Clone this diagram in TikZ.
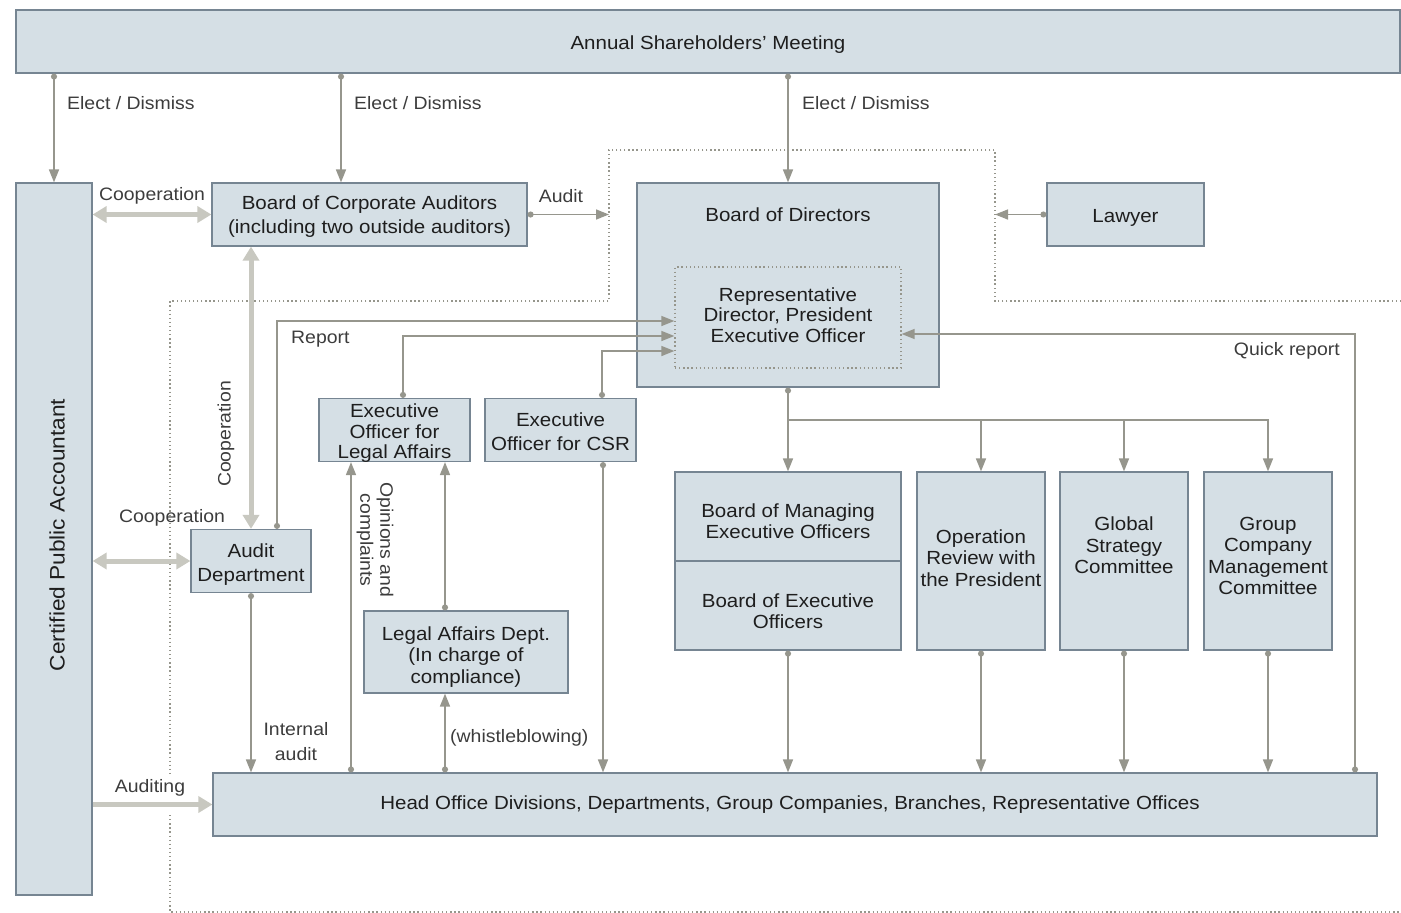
\documentclass[tikz,border=0pt]{standalone}
\usepackage{fontspec}
\setmainfont[FakeStretch=1.08]{Liberation Sans}
\usetikzlibrary{arrows.meta}
\definecolor{boxfill}{RGB}{213,223,229}
\definecolor{boxline}{RGB}{118,133,146}
\definecolor{arrc}{RGB}{150,150,141}
\definecolor{thickc}{RGB}{200,200,192}
\definecolor{dotc}{RGB}{150,150,140}
\definecolor{txtc}{RGB}{30,30,30}
\definecolor{lblc}{RGB}{60,60,60}
\begin{document}
\begin{tikzpicture}[x=1pt,y=-1pt,
  box/.style={draw=boxline, fill=boxfill, line width=1.2pt, inner sep=0pt, align=center, text=txtc, font=\fontsize{19}{21.5}\selectfont, execute at begin node={\rule{0pt}{20pt}}},
  plainbox/.style={draw=boxline, fill=boxfill, line width=1.2pt, inner sep=0pt},
  tx/.style={align=center, inner sep=0pt, text=txtc, font=\fontsize{19}{21.5}\selectfont},
  lab/.style={align=center, inner sep=0pt, text=lblc, font=\fontsize{18}{25}\selectfont},
  repbox/.style={draw=dotc, line width=1.3pt, dash pattern=on 1.3pt off 2.8pt, inner sep=0pt},
  conn/.style={draw=arrc, line width=1.5pt, {Circle[length=6pt]}-{Triangle[length=13pt,width=10pt]}},
  connb/.style={draw=arrc, line width=1.5pt, -{Triangle[length=13pt,width=10pt]}},
  wide/.style={draw=thickc, line width=5pt, -{Triangle[length=14pt,width=16pt]}},
  widetwo/.style={draw=thickc, line width=5pt, {Triangle[length=14pt,width=16pt]}-{Triangle[length=14pt,width=16pt]}},
  dotline/.style={draw=dotc, line width=1.3pt, dash pattern=on 1.3pt off 2.8pt}]
\useasboundingbox (0,0) rectangle (1401,913);

% helper coordinates
\coordinate (dl) at (609,150);
\coordinate (dr) at (995,150);
\coordinate (x341) at (341,0);
\coordinate (x277) at (277,0);
\coordinate (x403) at (403,0);
\coordinate (x602) at (602,0);
\coordinate (x603) at (603,0);
\coordinate (x351) at (351,0);
\coordinate (x445) at (445,0);
\coordinate (x1355) at (1355,0);
\coordinate (y321) at (0,321);
\coordinate (y336) at (0,336);
\coordinate (y351) at (0,351);
\coordinate (y334) at (0,334);
\coordinate (y420) at (0,420);

% dotted boundary
\draw[dotline] (1401,301) -- (995,301) -- (995,150) -- (609,150) -- (609,301) -- (170,301) -- (170,775);
\draw[dotline] (170,815) -- (170,912) -- (1401,912);

% boxes
\node[box, minimum width=1384pt, minimum height=63pt] (asm) at (708,41.5) {Annual Shareholders’ Meeting};
\node[plainbox, minimum width=76pt, minimum height=712pt] (cpa) at (54,539) {};
\node[tx, rotate=90, font=\fontsize{21}{24}\selectfont] (cpat) at (57,535) {Certified Public Accountant};
\node[plainbox, minimum width=315pt, minimum height=63pt] (bca) at (369.5,214.5) {};
\node[tx] (bcat) at (369.5,217) {Board of Corporate Auditors\\[2.5pt](including two outside auditors)};
\node[plainbox, minimum width=302pt, minimum height=204pt] (bod) at (788,285) {};
\node[tx] (bodt) at (788,215) {Board of Directors};
\node[repbox, minimum width=226pt, minimum height=101pt] (rep) at (788,317.5) {};
\node[tx, font=\fontsize{19}{20.5}\selectfont] (rept) at (788,314.8) {Representative\\Director, President\\Executive Officer};
\node[box, minimum width=157pt, minimum height=63pt] (law) at (1125.5,214.5) {Lawyer};
\node[plainbox, minimum width=120pt, minimum height=63pt] (aud) at (251,561) {};
\node[tx] (audt) at (251,564.5) {Audit\\[2.5pt]Department};
\node[plainbox, minimum width=151pt, minimum height=63pt] (eol) at (394.5,430) {};
\node[tx, font=\fontsize{19}{20.5}\selectfont] (eolt) at (394.5,433.5) {Executive\\Officer for\\Legal Affairs};
\node[plainbox, minimum width=151pt, minimum height=63pt] (eocsr) at (560.5,430) {};
\node[tx] (eocsrt) at (560.5,432) {Executive\\[2.5pt]Officer for CSR};
\node[plainbox, minimum width=204pt, minimum height=82pt] (lad) at (466,652) {};
\node[tx] (ladt) at (466,657) {Legal Affairs Dept.\\(In charge of\\compliance)};
\node[plainbox, minimum width=226pt, minimum height=89pt] (bme) at (788,516.5) {};
\node[tx] (bmet) at (788,521) {Board of Managing\\Executive Officers};
\node[plainbox, minimum width=226pt, minimum height=89pt] (beo) at (788,605.5) {};
\node[tx] (beot) at (788,611) {Board of Executive\\Officers};
\node[plainbox, minimum width=128pt, minimum height=178pt] (orp) at (981,561) {};
\node[tx] (orpt) at (981,558) {Operation\\Review with\\the President};
\node[plainbox, minimum width=128pt, minimum height=178pt] (gsc) at (1124,561) {};
\node[tx] (gsct) at (1124,545.5) {Global\\Strategy\\Committee};
\node[plainbox, minimum width=128pt, minimum height=178pt] (gcm) at (1268,561) {};
\node[tx] (gcmt) at (1268,556) {Group\\Company\\Management\\Committee};
\node[plainbox, minimum width=1164pt, minimum height=63pt] (ho) at (795,804.5) {};
\node[tx] (hot) at (790,805) {Head Office Divisions, Departments, Group Companies, Branches, Representative Offices};

% thin connectors
\draw[conn] (asm.south -| cpa.north) -- (cpa.north);
\draw[conn] (asm.south -| x341) -- (bca.north -| x341);
\draw[conn] (asm.south -| bod.north) -- (bod.north);
\draw[conn] (bca.east) -- (bca.east -| dl);
\draw[conn] (law.west) -- (law.west -| dr);
\draw[conn] (aud.north -| x277) |- (rep.west |- y321);
\draw[conn] (eol.north -| x403) |- (rep.west |- y336);
\draw[conn] (eocsr.north -| x602) |- (rep.west |- y351);
\draw[conn] (ho.north -| x1355) |- (rep.east |- y334);
\draw[conn] (ho.north -| x351) -- (eol.south -| x351);
\draw[conn] (lad.north -| x445) -- (eol.south -| x445);
\draw[conn] (ho.north -| x445) -- (lad.south -| x445);
\draw[conn] (eocsr.south -| x603) -- (ho.north -| x603);
\draw[conn] (aud.south) -- (aud.south |- ho.north);
\draw[conn] (bod.south) -- (bme.north);
\draw[connb] (bod.south |- y420) -| (orp.north);
\draw[connb] (bod.south |- y420) -| (gsc.north);
\draw[connb] (bod.south |- y420) -| (gcm.north);
\draw[conn] (beo.south) -- (beo.south |- ho.north);
\draw[conn] (orp.south) -- (orp.south |- ho.north);
\draw[conn] (gsc.south) -- (gsc.south |- ho.north);
\draw[conn] (gcm.south) -- (gcm.south |- ho.north);

% thick connectors
\draw[widetwo] (cpa.east |- bca.west) -- (bca.west);
\draw[widetwo] (cpa.east |- aud.west) -- (aud.west);
\draw[widetwo] (bca.south -| aud.north) -- (aud.north);
\draw[wide] (cpa.east |- ho.west) -- (ho.west);

% labels
\node[lab, anchor=west] (l1) at (67,103.5) {Elect / Dismiss};
\node[lab, anchor=west] (l2) at (354,103.5) {Elect / Dismiss};
\node[lab, anchor=west] (l3) at (802,103.5) {Elect / Dismiss};
\node[lab] (l4) at (152,196) {Cooperation};
\node[lab] (l5) at (561,196) {Audit};
\node[lab, anchor=west] (l6) at (291,339) {Report};
\node[lab, anchor=east] (l7) at (1340,351) {Quick report};
\node[lab, rotate=90] (l8) at (226,434) {Cooperation};
\node[lab] (l9) at (172,518) {Cooperation};
\node[lab, rotate=-90, font=\fontsize{18}{20}\selectfont] (l10) at (375,540) {Opinions and\\complaints};
\node[lab, anchor=west] (l11) at (450,738) {(whistleblowing)};
\node[lab] (l12) at (296,742) {Internal\\audit};
\node[lab] (l13) at (150,788) {Auditing};
\end{tikzpicture}
\end{document}
